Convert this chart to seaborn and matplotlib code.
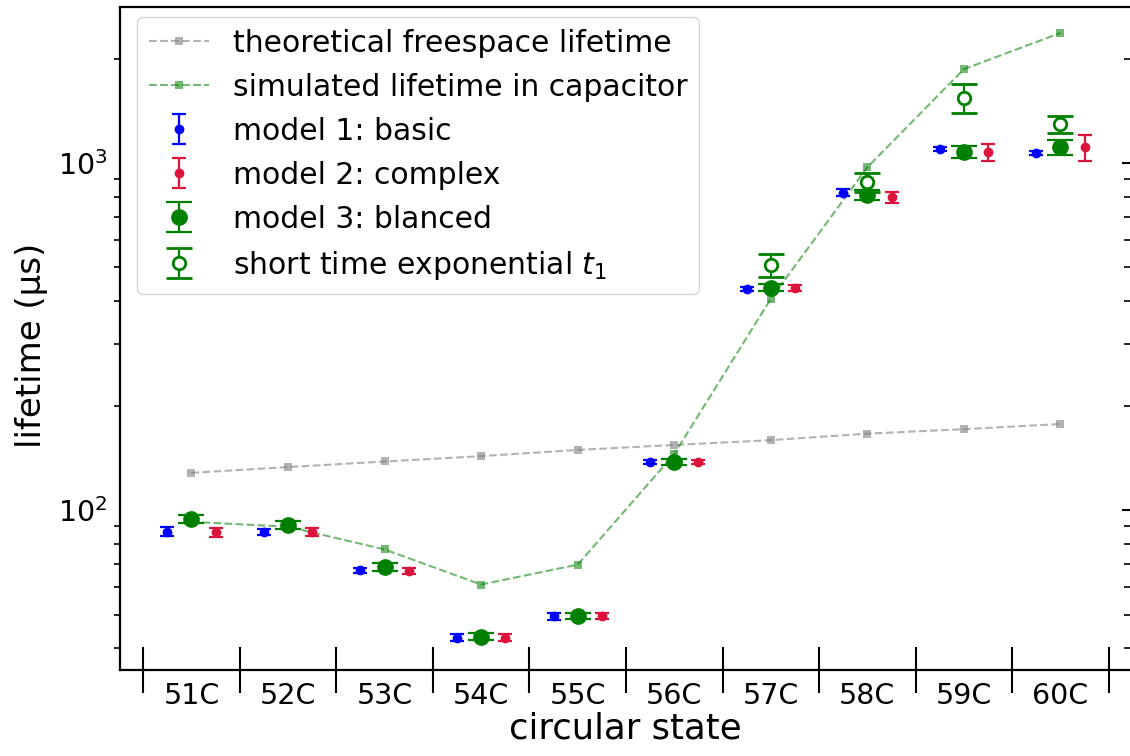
import numpy as np
import seaborn as sns
import matplotlib.pyplot as plt
from matplotlib.ticker import NullFormatter, LogLocator

# estados circulares
estados = ["51C", "52C", "53C", "54C", "55C", "56C", "57C", "58C", "59C", "60C"]

# vida media teorica en espacio libre y simulada en el condensador (us)
teorica = [128, 133, 138, 143, 149, 154, 159, 166, 171, 177]
simulada = [92.5, 89.5, 77, 61, 69.6, 145, 406, 972, 1864, 2370]

# modelos ajustados (valor y error)
modelo1 = [86.5, 86.5, 67.0, 42.9, 49.4, 137.5, 433, 822, 1100, 1068]
modelo1_err = [2.6, 1.5, 1.0, 1.0, 1.1, 2.0, 6, 18, 15, 15]
modelo2 = [86.2, 86.5, 66.7, 42.9, 49.4, 137.5, 437, 797, 1076, 1109]
modelo2_err = [2.6, 2.4, 1.4, 0.9, 1.0, 1.9, 9, 30, 60, 95]
modelo3 = [94.2, 90.5, 68.5, 43.2, 49.4, 137.5, 437, 809, 1076, 1110]
modelo3_err = [2.6, 2.5, 1.9, 0.9, 1.0, 2.8, 10.5, 25, 45, 53]
t1_corto = [np.nan] * 6 + [508, 880, 1543, 1292]
t1_corto_err = [np.nan] * 6 + [38, 53, 150, 70]

x = np.arange(len(estados))

fig = plt.figure(figsize=(11.3, 7.56), dpi=100)
ax = fig.add_axes([120 / 1130, 86 / 756, 1010 / 1130, 663 / 756])

sns.lineplot(x=x, y=teorica, ax=ax, color="gray", alpha=0.6, linestyle="--",
             marker="s", markersize=6, markeredgewidth=0, linewidth=1.5,
             label="theoretical freespace lifetime", zorder=1)
sns.lineplot(x=x, y=simulada, ax=ax, color="green", alpha=0.55, linestyle="--",
             marker="s", markersize=6, markeredgewidth=0, linewidth=1.5,
             label="simulated lifetime in capacitor", zorder=1)

ax.errorbar(x - 0.25, modelo1, yerr=modelo1_err, fmt="o", color="blue",
            markersize=6, capsize=5, elinewidth=1.6, capthick=1.6,
            label="model 1: basic", zorder=3)
ax.errorbar(x + 0.25, modelo2, yerr=modelo2_err, fmt="o", color="crimson",
            markersize=6, capsize=5, elinewidth=1.6, capthick=1.6,
            label="model 2: complex", zorder=3)
ax.errorbar(x, modelo3, yerr=modelo3_err, fmt="o", color="green",
            markersize=11, capsize=9.5, elinewidth=1.6, capthick=1.6,
            label="model 3: blanced", zorder=3)
ax.errorbar(x, t1_corto, yerr=t1_corto_err, fmt="o", color="green",
            markerfacecolor="white", markeredgewidth=2, markersize=9,
            capsize=9.5, elinewidth=1.6, capthick=1.6,
            label="short time exponential $t_1$", zorder=3)

ax.set_yscale("log")
ax.set_ylim(34.6, 2815)
ax.set_xlim(-0.74, 9.72)

# separadores entre estados y etiquetas centradas
ax.set_xticks(np.arange(-0.5, len(estados), 1.0))
ax.set_xticklabels([])
ax.set_xticks(x, labels=estados, minor=True)
ax.tick_params(axis="x", which="major", direction="inout", length=33, width=1.5)
ax.tick_params(axis="x", which="minor", length=0, pad=9, labelsize=20.5)

ax.yaxis.set_minor_locator(LogLocator(base=10, subs=np.arange(2, 10)))
ax.yaxis.set_minor_formatter(NullFormatter())
ax.tick_params(axis="y", which="major", left=True, right=True, direction="in",
               length=6, width=1.5, labelsize=20.5, pad=9)
ax.tick_params(axis="y", which="minor", left=True, right=True, direction="out",
               length=4, width=1.2)
for t in ax.yaxis.get_major_ticks():
    t.tick1line.set_visible(False)
for t in ax.yaxis.get_minor_ticks():
    t.tick2line.set_marker(0)

for lado in ["left", "bottom", "top"]:
    ax.spines[lado].set_linewidth(1.6)
ax.spines["right"].set_visible(False)

ax.set_xlabel("circular state", fontsize=25.5, labelpad=1)
ax.set_ylabel("lifetime (μs)", fontsize=24.5)
ax.yaxis.set_label_coords(-0.071, 0.489)

ax.legend(loc="upper left", bbox_to_anchor=(17 / 1010, 1 - 10 / 663),
          borderaxespad=0, fontsize=21.5)

plt.savefig("out.png", dpi=100)
